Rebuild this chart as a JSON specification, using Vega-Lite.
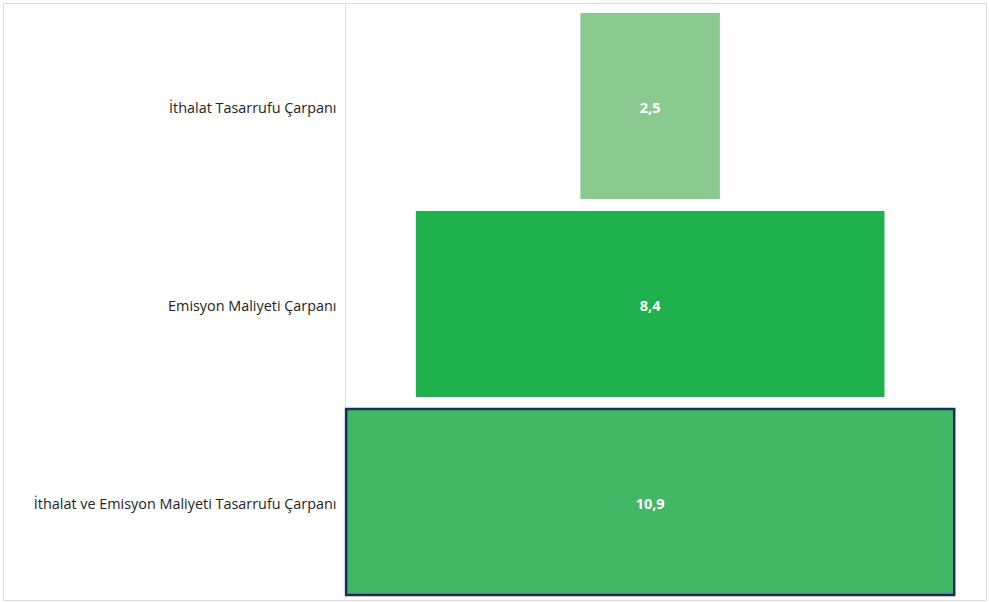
{
  "$schema": "https://vega.github.io/schema/vega-lite/v6.json",
  "width": 983,
  "height": 597,
  "autosize": {"type": "none"},
  "padding": {"left": 3, "top": 3, "right": 3, "bottom": 2},
  "background": "white",
  "config": {
    "view": {"stroke": "#dcdcdc", "strokeWidth": 1},
    "locale": {"number": {"decimal": ",", "thousands": ".", "grouping": [3], "currency": ["", " ₺"]}},
    "font": "Open Sans"
  },
  "data": {
    "values": [
      {"cat": "İthalat Tasarrufu Çarpanı", "value": 2.5},
      {"cat": "Emisyon Maliyeti Çarpanı", "value": 8.4},
      {"cat": "İthalat ve Emisyon Maliyeti Tasarrufu Çarpanı", "value": 10.9}
    ]
  },
  "encoding": {
    "y": {
      "field": "cat",
      "type": "nominal",
      "sort": null,
      "scale": {"paddingInner": 0.0606, "paddingOuter": 0.0379, "align": 0.667},
      "axis": {
        "title": null,
        "offset": -342,
        "ticks": false,
        "domain": true,
        "domainColor": "#e3e3e3",
        "domainWidth": 1,
        "labelFont": "Open Sans",
        "labelFontSize": 14.4,
        "labelColor": "#252423",
        "labelPadding": 9,
        "labelOffset": 3,
        "labelLimit": 400
      }
    }
  },
  "layer": [
    {
      "mark": {"type": "bar", "strokeWidth": 2.5},
      "encoding": {
        "x": {
          "field": "value",
          "type": "quantitative",
          "stack": "center",
          "scale": {"domain": [-6.15, 11.47], "nice": false, "zero": false},
          "axis": null
        },
        "color": {
          "field": "cat",
          "type": "nominal",
          "scale": {
            "domain": ["İthalat Tasarrufu Çarpanı", "Emisyon Maliyeti Çarpanı", "İthalat ve Emisyon Maliyeti Tasarrufu Çarpanı"],
            "range": ["#8BCA8E", "#20B14F", "#42B766"]
          },
          "legend": null
        },
        "stroke": {
          "field": "cat",
          "type": "nominal",
          "scale": {
            "domain": ["İthalat Tasarrufu Çarpanı", "Emisyon Maliyeti Çarpanı", "İthalat ve Emisyon Maliyeti Tasarrufu Çarpanı"],
            "range": ["rgba(0,0,0,0)", "rgba(0,0,0,0)", "#1B2A5E"]
          },
          "legend": null
        }
      }
    },
    {
      "mark": {"type": "text", "color": "white", "fontWeight": "bold", "fontSize": 14.5, "font": "Open Sans", "baseline": "middle", "align": "center", "dy": 3},
      "encoding": {
        "x": {"datum": 5.45, "type": "quantitative"},
        "text": {"field": "value", "type": "quantitative", "format": ".1f"}
      }
    }
  ]
}
